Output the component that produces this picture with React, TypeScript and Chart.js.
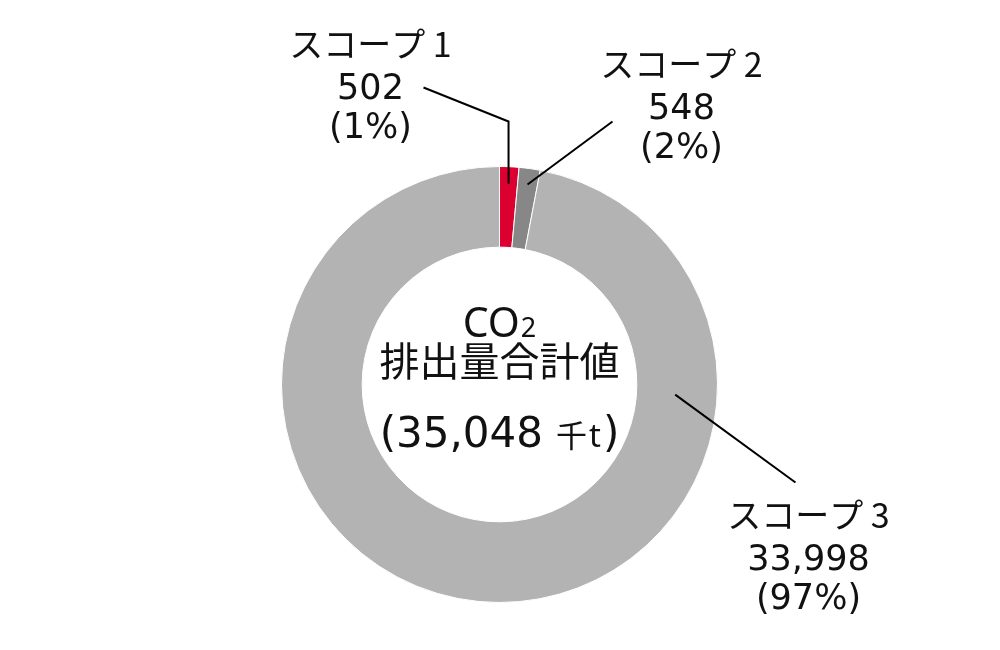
import React, { useRef, useEffect } from 'react';
import { Chart, registerables } from 'chart.js';

Chart.register(...registerables);

// データ（千t-CO2）
const scopeLabels = ['スコープ 1', 'スコープ 2', 'スコープ 3'];
const emissions = [502, 548, 33998];
const sliceColors = ['#dc0030', '#878787', '#b3b3b3'];
const centerTitle = ['CO', '2', '排出量合計値'];
const unitLabel = '千t';

const NUM_FONT = '"DejaVu Sans", sans-serif';
const JP_FONT = '"Noto Sans CJK JP", sans-serif';
const LAT_FONT = '"Noto Sans", sans-serif';

// 引き出し線と注記の位置（中心からの相対位置）
const leaders = [
  { angle: null as number | null, radius: 201, elbowY: -263, end: [-76, -297], label: [-129, -328] },
  { angle: null as number | null, radius: 202, elbowY: null as number | null, end: [113, -263], label: [182, -308] },
  { angle: 93.3, radius: 176, elbowY: null as number | null, end: [296, 98], label: [309, 143] },
];

const fmt = (v: number) => v.toLocaleString('en-US');

const drawPieces = (ctx: CanvasRenderingContext2D, pieces: { t: string; f: string; gap?: number }[], cx: number, y: number) => {
  let total = 0;
  const widths = pieces.map(p => {
    ctx.font = p.f;
    const w = ctx.measureText(p.t).width + (p.gap || 0);
    total += w;
    return w;
  });
  let x = cx - total / 2;
  ctx.textAlign = 'left';
  pieces.forEach((p, i) => {
    ctx.font = p.f;
    ctx.fillText(p.t, x, y);
    x += widths[i];
  });
};

const annotationPlugin = {
  id: 'annotations',
  afterDraw(chart: any) {
    const ctx: CanvasRenderingContext2D = chart.ctx;
    const meta = chart.getDatasetMeta(0);
    const arcs = meta.data as any[];
    if (!arcs.length) return;
    const cx = arcs[0].x;
    const cy = arcs[0].y;
    const total = emissions.reduce((a, b) => a + b, 0);

    ctx.save();
    ctx.fillStyle = '#111';
    ctx.textBaseline = 'alphabetic';

    // 中心テキスト
    drawPieces(ctx, [
      { t: centerTitle[0], f: `41px ${LAT_FONT}`, gap: 1 },
      { t: centerTitle[1], f: `27px ${LAT_FONT}` },
    ], cx, cy - 48);
    drawPieces(ctx, [{ t: centerTitle[2], f: `40px ${JP_FONT}` }], cx, cy - 9);
    drawPieces(ctx, [
      { t: '(' + fmt(total), f: `42px ${NUM_FONT}`, gap: 13 },
      { t: unitLabel[0], f: `31px ${JP_FONT}`, gap: 2 },
      { t: unitLabel.slice(1), f: `33px ${LAT_FONT}`, gap: 2 },
      { t: ')', f: `42px ${NUM_FONT}` },
    ], cx, cy + 62);

    // 引き出し線と注記
    ctx.strokeStyle = '#000';
    ctx.lineWidth = 2;
    arcs.forEach((arc: any, i: number) => {
      const cfg = leaders[i];
      const mid = cfg.angle === null
        ? (arc.startAngle + arc.endAngle) / 2
        : -Math.PI / 2 + (cfg.angle * Math.PI) / 180;
      const ax = cx + Math.cos(mid) * cfg.radius;
      const ay = cy + Math.sin(mid) * cfg.radius;
      ctx.beginPath();
      ctx.moveTo(ax, ay);
      if (cfg.elbowY !== null) ctx.lineTo(ax, cy + cfg.elbowY);
      ctx.lineTo(cx + cfg.end[0], cy + cfg.end[1]);
      ctx.stroke();

      const lx = cx + cfg.label[0];
      const ly = cy + cfg.label[1];
      const pct = Math.round((emissions[i] / total) * 100);
      ctx.textAlign = 'center';
      ctx.font = `34px ${JP_FONT}`;
      ctx.fillText(scopeLabels[i], lx, ly);
      ctx.font = `35px ${NUM_FONT}`;
      ctx.fillText(fmt(emissions[i]), lx, ly + 42);
      ctx.fillText(`(${pct}%)`, lx, ly + 81);
    });
    ctx.restore();
  },
};

const App: React.FC = () => {
  const canvasRef = useRef<HTMLCanvasElement>(null);
  const chartRef = useRef<Chart | null>(null);

  useEffect(() => {
    if (!canvasRef.current) return;
    if (chartRef.current) chartRef.current.destroy();

    chartRef.current = new Chart(canvasRef.current, {
      type: 'doughnut',
      data: {
        labels: scopeLabels,
        datasets: [{
          data: emissions,
          backgroundColor: sliceColors,
          borderColor: '#ffffff',
          borderWidth: 1,
        }],
      },
      options: {
        responsive: true,
        maintainAspectRatio: false,
        animation: false,
        cutout: '63%',
        layout: { padding: { top: 166, bottom: 47, left: 281, right: 282 } },
        plugins: {
          legend: { display: false },
          tooltip: { enabled: false },
        },
      },
      plugins: [annotationPlugin],
    });

    return () => {
      if (chartRef.current) {
        chartRef.current.destroy();
        chartRef.current = null;
      }
    };
  }, []);

  return (
    <div style={{ position: 'fixed', left: 0, top: 0, width: 1000, height: 650, background: '#fff' }}>
      <canvas ref={canvasRef}></canvas>
    </div>
  );
};

export default App;
